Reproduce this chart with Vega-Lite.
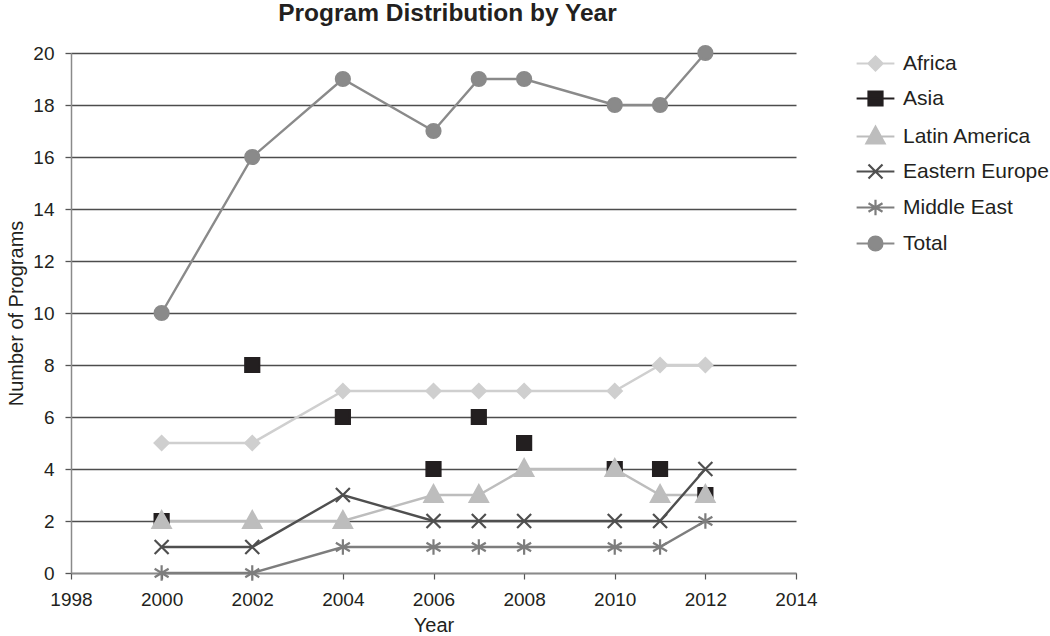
{
  "$schema": "https://vega.github.io/schema/vega-lite/v6.json",
  "autosize": {"type": "none"},
  "padding": {"left": 71, "top": 53, "right": 254, "bottom": 63},
  "width": 725,
  "height": 520,
  "background": "white",
  "title": {"text": "Program Distribution by Year", "fontSize": 24.5, "fontWeight": "bold", "font": "Liberation Sans", "color": "#231f20", "offset": 15, "anchor": "middle", "dx": 14},
  "config": {
    "font": "Liberation Sans",
    "view": {"stroke": null},
    "axis": {"labelFont": "Liberation Sans", "titleFont": "Liberation Sans", "labelColor": "#231f20", "titleColor": "#231f20", "titleFontWeight": "normal"}
  },
  "data": {"values": [
    {"year": 2000, "region": "Africa", "programs": 5},
    {"year": 2002, "region": "Africa", "programs": 5},
    {"year": 2004, "region": "Africa", "programs": 7},
    {"year": 2006, "region": "Africa", "programs": 7},
    {"year": 2007, "region": "Africa", "programs": 7},
    {"year": 2008, "region": "Africa", "programs": 7},
    {"year": 2010, "region": "Africa", "programs": 7},
    {"year": 2011, "region": "Africa", "programs": 8},
    {"year": 2012, "region": "Africa", "programs": 8},
    {"year": 2000, "region": "Asia", "programs": 2},
    {"year": 2002, "region": "Asia", "programs": 8},
    {"year": 2004, "region": "Asia", "programs": 6},
    {"year": 2006, "region": "Asia", "programs": 4},
    {"year": 2007, "region": "Asia", "programs": 6},
    {"year": 2008, "region": "Asia", "programs": 5},
    {"year": 2010, "region": "Asia", "programs": 4},
    {"year": 2011, "region": "Asia", "programs": 4},
    {"year": 2012, "region": "Asia", "programs": 3},
    {"year": 2000, "region": "Latin America", "programs": 2},
    {"year": 2002, "region": "Latin America", "programs": 2},
    {"year": 2004, "region": "Latin America", "programs": 2},
    {"year": 2006, "region": "Latin America", "programs": 3},
    {"year": 2007, "region": "Latin America", "programs": 3},
    {"year": 2008, "region": "Latin America", "programs": 4},
    {"year": 2010, "region": "Latin America", "programs": 4},
    {"year": 2011, "region": "Latin America", "programs": 3},
    {"year": 2012, "region": "Latin America", "programs": 3},
    {"year": 2000, "region": "Eastern Europe", "programs": 1},
    {"year": 2002, "region": "Eastern Europe", "programs": 1},
    {"year": 2004, "region": "Eastern Europe", "programs": 3},
    {"year": 2006, "region": "Eastern Europe", "programs": 2},
    {"year": 2007, "region": "Eastern Europe", "programs": 2},
    {"year": 2008, "region": "Eastern Europe", "programs": 2},
    {"year": 2010, "region": "Eastern Europe", "programs": 2},
    {"year": 2011, "region": "Eastern Europe", "programs": 2},
    {"year": 2012, "region": "Eastern Europe", "programs": 4},
    {"year": 2000, "region": "Middle East", "programs": 0},
    {"year": 2002, "region": "Middle East", "programs": 0},
    {"year": 2004, "region": "Middle East", "programs": 1},
    {"year": 2006, "region": "Middle East", "programs": 1},
    {"year": 2007, "region": "Middle East", "programs": 1},
    {"year": 2008, "region": "Middle East", "programs": 1},
    {"year": 2010, "region": "Middle East", "programs": 1},
    {"year": 2011, "region": "Middle East", "programs": 1},
    {"year": 2012, "region": "Middle East", "programs": 2},
    {"year": 2000, "region": "Total", "programs": 10},
    {"year": 2002, "region": "Total", "programs": 16},
    {"year": 2004, "region": "Total", "programs": 19},
    {"year": 2006, "region": "Total", "programs": 17},
    {"year": 2007, "region": "Total", "programs": 19},
    {"year": 2008, "region": "Total", "programs": 19},
    {"year": 2010, "region": "Total", "programs": 18},
    {"year": 2011, "region": "Total", "programs": 18},
    {"year": 2012, "region": "Total", "programs": 20}
  ]},
  "encoding": {
    "x": {"field": "year", "type": "quantitative",
      "scale": {"domain": [1998, 2014], "nice": false, "zero": false},
      "axis": {"title": "Year", "values": [1998, 2000, 2002, 2004, 2006, 2008, 2010, 2012, 2014], "format": "d", "grid": false,
        "labelFontSize": 19, "titleFontSize": 20, "labelPadding": 11, "titlePadding": 6,
        "domainColor": "#8a8a8a", "domainWidth": 1.5, "tickColor": "#555", "tickSize": 6, "tickWidth": 1.2, "labelFlush": false}},
    "y": {"field": "programs", "type": "quantitative",
      "scale": {"domain": [0, 20], "nice": false},
      "axis": {"title": "Number of Programs", "values": [0, 2, 4, 6, 8, 10, 12, 14, 16, 18, 20],
        "grid": true, "gridColor": "#4d4d4d", "gridWidth": 1.3, "gridOpacity": 1,
        "labelFontSize": 19, "titleFontSize": 20, "labelPadding": 11, "titlePadding": 6,
        "domainColor": "#8a8a8a", "domainWidth": 1.5, "tickColor": "#555", "tickSize": 6, "tickWidth": 1.3}}
  },
  "layer": [
    {
      "transform": [{"filter": "datum.region != 'Asia'"}],
      "mark": {"type": "line", "strokeWidth": 2.4},
      "encoding": {
        "color": {"field": "region", "type": "nominal", "legend": null,
          "scale": {"domain": ["Africa", "Asia", "Latin America", "Eastern Europe", "Middle East", "Total"],
            "range": ["#cfcfcf", "#231f20", "#bdbdbd", "#4f4f4f", "#7d7d7d", "#8a8a8a"]}}
      }
    },
    {
      "mark": {"type": "point", "filled": true, "opacity": 1, "size": 196, "strokeWidth": 2.2},
      "encoding": {
        "fill": {"field": "region", "type": "nominal", "legend": null,
          "scale": {"domain": ["Africa", "Asia", "Latin America", "Eastern Europe", "Middle East", "Total"],
            "range": ["#cfcfcf", "#231f20", "#bdbdbd", "#4f4f4f", "#7d7d7d", "#8a8a8a"]}},
        "stroke": {"field": "region", "type": "nominal", "legend": null,
          "scale": {"domain": ["Africa", "Asia", "Latin America", "Eastern Europe", "Middle East", "Total"],
            "range": ["#cfcfcf", "#231f20", "#bdbdbd", "#4f4f4f", "#7d7d7d", "#8a8a8a"]}},
        "shape": {"field": "region", "type": "nominal", "legend": null,
          "scale": {"domain": ["Africa", "Asia", "Latin America", "Eastern Europe", "Middle East", "Total"],
            "range": [
              "M0,-1L1,0L0,1L-1,0Z",
              "M-1,-1L1,-1L1,1L-1,1Z",
              "M0,-1.4L1.3,1L-1.3,1Z",
              "M-1,-1L1,1M-1,1L1,-1",
              "M0,-1.1L0,1.1M-1,-0.6L1,0.6M-1,0.6L1,-0.6",
              "M1,0A1,1 0 1,1 -1,0A1,1 0 1,1 1,0Z"
            ]}}
      }
    },
    {
      "transform": [{"filter": "datum.programs < -100"}],
      "mark": {"type": "point", "filled": true, "opacity": 1, "size": 196, "strokeWidth": 2.2},
      "encoding": {
        "fill": {"field": "region", "type": "nominal",
          "legend": {"title": null, "orient": "none", "legendX": 794, "legendY": 0, "labelFontSize": 21, "labelColor": "#231f20", "labelOffset": 17, "rowPadding": 12, "symbolSize": 196, "symbolStrokeWidth": 2.2, "labelFont": "Liberation Sans"},
          "scale": {"domain": ["Africa", "Asia", "Latin America", "Eastern Europe", "Middle East", "Total"],
            "range": ["#cfcfcf", "#231f20", "#bdbdbd", "#4f4f4f", "#7d7d7d", "#8a8a8a"]}},
        "stroke": {"field": "region", "type": "nominal",
          "legend": {"title": null, "orient": "none", "legendX": 794, "legendY": 0, "labelFontSize": 21, "labelColor": "#231f20", "labelOffset": 17, "rowPadding": 12, "symbolSize": 196, "symbolStrokeWidth": 2.2, "labelFont": "Liberation Sans"},
          "scale": {"domain": ["Africa", "Asia", "Latin America", "Eastern Europe", "Middle East", "Total"],
            "range": ["#cfcfcf", "#231f20", "#bdbdbd", "#4f4f4f", "#7d7d7d", "#8a8a8a"]}},
        "shape": {"field": "region", "type": "nominal",
          "legend": {"title": null, "orient": "none", "legendX": 794, "legendY": 0, "labelFontSize": 21, "labelColor": "#231f20", "labelOffset": 17, "rowPadding": 12, "symbolSize": 196, "symbolStrokeWidth": 2.2, "labelFont": "Liberation Sans"},
          "scale": {"domain": ["Africa", "Asia", "Latin America", "Eastern Europe", "Middle East", "Total"],
            "range": [
              "M0,-1L1,0L0,1L-1,0Z M-2.7,0L2.7,0",
              "M-1,-1L1,-1L1,1L-1,1Z M-2.7,0L2.7,0",
              "M0,-1.4L1.3,1L-1.3,1Z M-2.7,0L2.7,0",
              "M-1,-1L1,1M-1,1L1,-1 M-2.7,0L2.7,0",
              "M0,-1.1L0,1.1M-1,-0.6L1,0.6M-1,0.6L1,-0.6 M-2.7,0L2.7,0",
              "M1,0A1,1 0 1,1 -1,0A1,1 0 1,1 1,0Z M-2.7,0L2.7,0"
            ]}}
      }
    }
  ],
  "resolve": {"scale": {"color": "independent", "fill": "independent", "stroke": "independent", "shape": "independent"}}
}
